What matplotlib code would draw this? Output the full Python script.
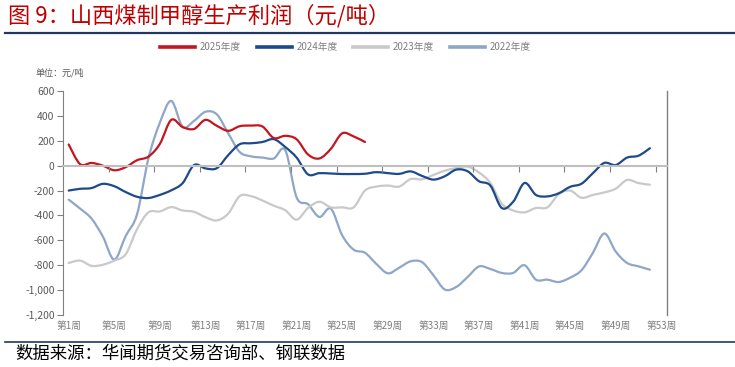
import numpy as np
import matplotlib
matplotlib.use('Agg')
import matplotlib.pyplot as plt
from matplotlib.path import Path
from matplotlib.patches import PathPatch
from matplotlib.lines import Line2D

plt.rcParams['font.family'] = ['Noto Sans CJK SC', 'DejaVu Sans']

# 山西煤制甲醇生产利润（元/吨），按周
profit_2025 = [170, 12, 22, 0, -37, -12, 44, 73, 175, 368, 310, 295, 368, 320, 280,
               317, 322, 315, 222, 240, 212, 90, 58, 135, 260, 235, 190]
profit_2024 = [-200, -186, -180, -146, -165, -212, -250, -260, -235, -198, -140, 5, -22,
               -20, 85, 172, 180, 190, 213, 150, 65, -70, -60, -63, -67, -67, -65, -52,
               -60, -66, -46, -82, -112, -85, -32, -45, -125, -160, -340, -290, -139,
               -235, -247, -222, -170, -145, -60, 22, 5, 65, 80, 140]
profit_2023 = [-782, -763, -805, -796, -763, -712, -510, -375, -368, -333, -360, -371,
               -414, -440, -385, -245, -245, -280, -322, -358, -434, -340, -290, -335,
               -335, -335, -200, -168, -160, -168, -108, -110, -75, -40, -20, -8, -55,
               -139, -305, -360, -375, -340, -335, -230, -200, -258, -235, -215, -185,
               -115, -140, -153]
profit_2022 = [-273, -345, -425, -570, -755, -565, -390, 60, 345, 520, 312, 360, 433,
               412, 260, 110, 75, 65, 58, 125, -255, -310, -412, -345, -560, -675, -700,
               -790, -865, -820, -769, -775, -880, -995, -975, -895, -810, -830, -862,
               -862, -800, -916, -916, -935, -900, -840, -700, -545, -690, -782, -809, -836]

series = [('2025年度', profit_2025, '#C3161F'),
          ('2024年度', profit_2024, '#1D4A8A'),
          ('2023年度', profit_2023, '#C9C9C9'),
          ('2022年度', profit_2022, '#8EA6C7')]

week_labels = ['第%d周' % w for w in range(1, 54, 4)]
week_label_pos = list(range(1, 54, 4))


def smooth_line(ax, xs, ys, color, lw):
    # 平滑曲线（Catmull-Rom 转三次贝塞尔），同 Excel 平滑线
    pts = np.column_stack([xs, ys]).astype(float)
    verts = [pts[0]]
    codes = [Path.MOVETO]
    n = len(pts)
    for i in range(n - 1):
        p0 = pts[i - 1] if i > 0 else pts[i]
        p1 = pts[i]
        p2 = pts[i + 1]
        p3 = pts[i + 2] if i + 2 < n else pts[i + 1]
        verts += [p1 + (p2 - p0) / 6, p2 - (p3 - p1) / 6, p2]
        codes += [Path.CURVE4] * 3
    patch = PathPatch(Path(verts, codes), fill=False, edgecolor=color, lw=lw,
                      capstyle='round', joinstyle='round', transform=ax.transData)
    ax.add_patch(patch)


fig = plt.figure(figsize=(7.35, 3.67), dpi=100)
ax = fig.add_axes([63 / 735, 52 / 367, 604 / 735, 224 / 367])

for name, vals, col in reversed(series):
    weeks = np.arange(1, len(vals) + 1)
    smooth_line(ax, weeks, vals, col, 1.6)

ax.set_xlim(0.5, 53.5)
ax.set_ylim(-1200, 600)
ax.set_yticks(np.arange(-1200, 601, 200))
ax.set_yticklabels(['{:,}'.format(v) for v in range(-1200, 601, 200)])
ax.tick_params(axis='y', length=4, width=0.8, color='#808080', labelcolor='#595959',
               labelsize=7.5, pad=2)

ax.spines['top'].set_visible(False)
ax.spines['left'].set_color('#808080')
ax.spines['right'].set_color('#808080')
ax.spines['right'].set_linewidth(1.0)
ax.spines['bottom'].set_position(('data', 0))
ax.spines['bottom'].set_color('#BFBFBF')
ax.spines['bottom'].set_linewidth(1.5)
ax.set_xticks(np.arange(4.5, 53, 4))
ax.tick_params(axis='x', length=4, width=0.8, color='#808080', labelbottom=False)

sec = ax.secondary_xaxis('bottom')
sec.set_xticks(week_label_pos, week_labels)
sec.tick_params(length=0, pad=4, labelsize=7, labelcolor='#7F7F7F')
sec.spines['bottom'].set_visible(False)

handles = [Line2D([], [], color=c, lw=2.6) for _, _, c in series]
fig.legend(handles, [s[0] for s in series], loc='center', bbox_to_anchor=(0.47, 0.872),
           ncol=4, frameon=False, fontsize=7, handlelength=3.6, columnspacing=1.6,
           handletextpad=0.5, labelcolor='#7F7F7F')

fig.text(35 / 735, 1 - 73 / 367, '单位：元/吨', fontsize=6.5, color='#595959', va='center')

fig.text(8 / 735, 1 - 16 / 367, '图 9：山西煤制甲醇生产利润（元/吨）', color='#C00000',
         fontsize=16, va='center')
fig.add_artist(Line2D([5 / 735, 1], [1 - 33 / 367] * 2, color='#1F3864', lw=1.6))
fig.add_artist(Line2D([5 / 735, 1], [1 - 342 / 367] * 2, color='#1F3864', lw=1.2))
fig.text(15 / 735, 1 - 354 / 367, '数据来源：华闻期货交易咨询部、钢联数据', color='black',
         fontsize=12.5, va='center')

plt.savefig('out.png', dpi=100)
